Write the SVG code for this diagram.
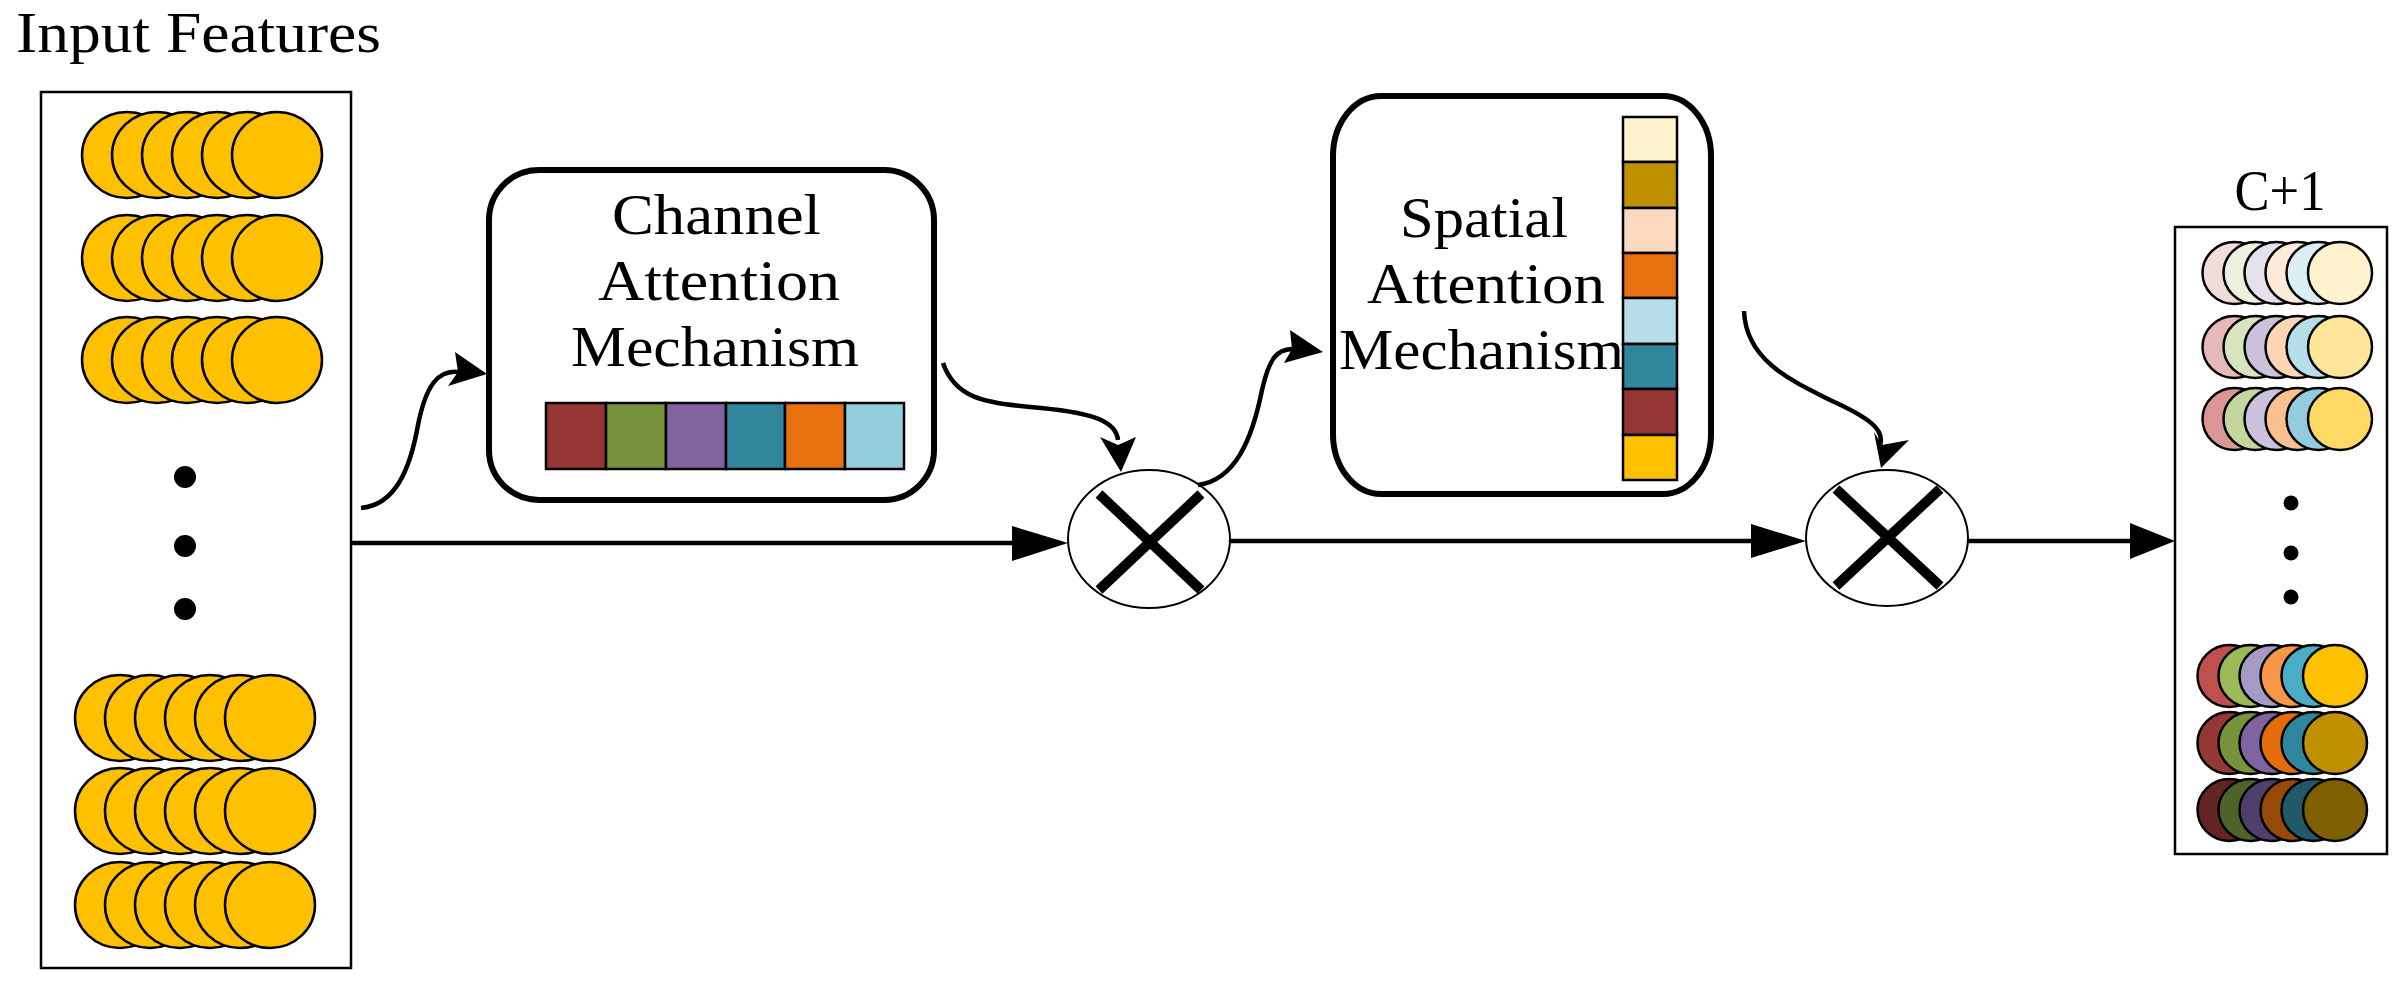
<svg xmlns="http://www.w3.org/2000/svg" width="2407" height="990" viewBox="0 0 2407 990">
<style>
text{font-family:"Liberation Serif","DejaVu Serif",serif;fill:#000}
.t{font-size:56px}
.in ellipse{fill:#FFC000;stroke:#000;stroke-width:2.5}
.out ellipse{stroke:#000;stroke-width:2.5}
.box{fill:#fff;stroke:#000;stroke-width:2.5}
.rbox{fill:#fff;stroke:#000;stroke-width:6}
.cell{stroke:#000;stroke-width:2.5}
.ln{fill:none;stroke:#000;stroke-width:4.5}
.hd{fill:#000}
.x{stroke:#000;stroke-width:10}
</style>
<rect width="2407" height="990" fill="#fff"/>
<g id="input">
<text x="16" y="52" class="t" textLength="365" lengthAdjust="spacingAndGlyphs">Input Features</text>
<rect class="box" x="41" y="92" width="310" height="876"/>
<g class="in">
<g id="r1"><ellipse cx="127" cy="155" rx="45" ry="43"/><ellipse cx="157" cy="155" rx="45" ry="43"/><ellipse cx="187" cy="155" rx="45" ry="43"/><ellipse cx="217" cy="155" rx="45" ry="43"/><ellipse cx="247" cy="155" rx="45" ry="43"/><ellipse cx="277" cy="155" rx="45" ry="43"/></g>
<use href="#r1" y="103"/><use href="#r1" y="205"/>
<g id="r4"><ellipse cx="120" cy="718" rx="45" ry="43"/><ellipse cx="150" cy="718" rx="45" ry="43"/><ellipse cx="180" cy="718" rx="45" ry="43"/><ellipse cx="210" cy="718" rx="45" ry="43"/><ellipse cx="240" cy="718" rx="45" ry="43"/><ellipse cx="270" cy="718" rx="45" ry="43"/></g>
<use href="#r4" y="93"/><use href="#r4" y="187"/>
</g>
<circle cx="185" cy="477" r="11"/><circle cx="185" cy="546" r="11"/><circle cx="185" cy="609" r="11"/>
</g>
<g id="channel">
<rect class="rbox" x="489" y="170" width="445" height="330" rx="50"/>
<text x="612" y="234" class="t" textLength="209" lengthAdjust="spacingAndGlyphs">Channel</text>
<text x="598" y="300" class="t" textLength="242" lengthAdjust="spacingAndGlyphs">Attention</text>
<text x="571" y="366" class="t" textLength="288" lengthAdjust="spacingAndGlyphs">Mechanism</text>
<rect class="cell" x="546" y="403" width="60" height="66" fill="#943634"/>
<rect class="cell" x="606" y="403" width="60" height="66" fill="#76923C"/>
<rect class="cell" x="666" y="403" width="60" height="66" fill="#8064A2"/>
<rect class="cell" x="726" y="403" width="59" height="66" fill="#31859C"/>
<rect class="cell" x="785" y="403" width="60" height="66" fill="#E8710F"/>
<rect class="cell" x="845" y="403" width="59" height="66" fill="#92CDDC"/>
</g>
<g id="mult1">
<ellipse cx="1149" cy="539" rx="81" ry="69" fill="#fff" stroke="#000" stroke-width="2"/>
<line class="x" x1="1099" y1="494" x2="1201" y2="590"/><line class="x" x1="1099" y1="590" x2="1201" y2="494"/>
</g>
<g id="spatial">
<rect class="rbox" x="1333" y="96" width="378" height="398" rx="48" ry="60"/>
<text x="1400" y="237" class="t" textLength="168" lengthAdjust="spacingAndGlyphs">Spatial</text>
<text x="1367" y="303" class="t" textLength="238" lengthAdjust="spacingAndGlyphs">Attention</text>
<text x="1339" y="369" class="t" textLength="285" lengthAdjust="spacingAndGlyphs">Mechanism</text>
<rect class="cell" x="1623" y="117" width="54" height="45" fill="#FFF2CC"/>
<rect class="cell" x="1623" y="162" width="54" height="46" fill="#BF9000"/>
<rect class="cell" x="1623" y="208" width="54" height="45" fill="#FBD9BF"/>
<rect class="cell" x="1623" y="253" width="54" height="45" fill="#E8710F"/>
<rect class="cell" x="1623" y="298" width="54" height="46" fill="#B7DDE8"/>
<rect class="cell" x="1623" y="344" width="54" height="45" fill="#31859C"/>
<rect class="cell" x="1623" y="389" width="54" height="46" fill="#943634"/>
<rect class="cell" x="1623" y="435" width="54" height="45" fill="#FFC000"/>
</g>
<g id="mult2">
<ellipse cx="1887" cy="538" rx="81" ry="68" fill="#fff" stroke="#000" stroke-width="2"/>
<line class="x" x1="1836" y1="489" x2="1940" y2="586"/><line class="x" x1="1836" y1="586" x2="1940" y2="489"/>
</g>
<g id="output">
<text x="2280" y="210" class="t" text-anchor="middle" textLength="91" lengthAdjust="spacingAndGlyphs">C+1</text>
<rect class="box" x="2175" y="227" width="212" height="627"/>
<g class="out">
<ellipse cx="2234.5" cy="273" rx="32" ry="31" fill="#F2DCDB"/><ellipse cx="2255.5" cy="273" rx="32" ry="31" fill="#EBF1DE"/><ellipse cx="2276.5" cy="273" rx="32" ry="31" fill="#E5E0EC"/><ellipse cx="2297.5" cy="273" rx="32" ry="31" fill="#FDEADA"/><ellipse cx="2318.5" cy="273" rx="32" ry="31" fill="#DBEEF4"/><ellipse cx="2340" cy="273" rx="32" ry="31" fill="#FFF2CC"/>
<ellipse cx="2234.5" cy="347" rx="32" ry="31" fill="#E6B9B8"/><ellipse cx="2255.5" cy="347" rx="32" ry="31" fill="#D7E4BD"/><ellipse cx="2276.5" cy="347" rx="32" ry="31" fill="#CCC1DA"/><ellipse cx="2297.5" cy="347" rx="32" ry="31" fill="#FCD5B5"/><ellipse cx="2318.5" cy="347" rx="32" ry="31" fill="#B7DEE8"/><ellipse cx="2340" cy="347" rx="32" ry="31" fill="#FFE699"/>
<ellipse cx="2234.5" cy="419" rx="32" ry="31" fill="#D99694"/><ellipse cx="2255.5" cy="419" rx="32" ry="31" fill="#C3D69B"/><ellipse cx="2276.5" cy="419" rx="32" ry="31" fill="#CCC1DA"/><ellipse cx="2297.5" cy="419" rx="32" ry="31" fill="#FAC090"/><ellipse cx="2318.5" cy="419" rx="32" ry="31" fill="#93CDDD"/><ellipse cx="2340" cy="419" rx="32" ry="31" fill="#FFD966"/>
<ellipse cx="2229.5" cy="676" rx="32" ry="31" fill="#C0504D"/><ellipse cx="2250.5" cy="676" rx="32" ry="31" fill="#9BBB59"/><ellipse cx="2271.5" cy="676" rx="32" ry="31" fill="#A69BC4"/><ellipse cx="2292.5" cy="676" rx="32" ry="31" fill="#F79646"/><ellipse cx="2313.5" cy="676" rx="32" ry="31" fill="#4BACC6"/><ellipse cx="2335" cy="676" rx="32" ry="31" fill="#FFC000"/>
<ellipse cx="2229.5" cy="743" rx="32" ry="31" fill="#953735"/><ellipse cx="2250.5" cy="743" rx="32" ry="31" fill="#77933C"/><ellipse cx="2271.5" cy="743" rx="32" ry="31" fill="#7F64A2"/><ellipse cx="2292.5" cy="743" rx="32" ry="31" fill="#E46C0A"/><ellipse cx="2313.5" cy="743" rx="32" ry="31" fill="#31859C"/><ellipse cx="2335" cy="743" rx="32" ry="31" fill="#BF9000"/>
<ellipse cx="2229.5" cy="810" rx="32" ry="31" fill="#632523"/><ellipse cx="2250.5" cy="810" rx="32" ry="31" fill="#4F6228"/><ellipse cx="2271.5" cy="810" rx="32" ry="31" fill="#4F3F6B"/><ellipse cx="2292.5" cy="810" rx="32" ry="31" fill="#984807"/><ellipse cx="2313.5" cy="810" rx="32" ry="31" fill="#215968"/><ellipse cx="2335" cy="810" rx="32" ry="31" fill="#7F6000"/>
</g>
<circle cx="2291" cy="503" r="7.5"/><circle cx="2291" cy="553" r="7.5"/><circle cx="2291" cy="597" r="7.5"/>
</g>
<g id="connectors">
<line class="ln" x1="352" y1="543" x2="1015" y2="543"/>
<polygon class="hd" points="1012,526 1068,543 1012,561"/>
<line class="ln" x1="1230" y1="541" x2="1755" y2="541"/>
<polygon class="hd" points="1751,524 1806,541 1751,558"/>
<line class="ln" x1="1968" y1="541" x2="2133" y2="541"/>
<polygon class="hd" points="2130,523 2175,541 2130,559"/>
<path class="ln" d="M361,508 C395,505 410,470 418,425 C426,385 438,370 458,372"/>
<polygon class="hd" points="455,352 487,374 448,386 458,372"/>
<path class="ln" d="M943,363 C955,398 985,403 1030,407 C1090,412 1116,420 1118,440"/>
<polygon class="hd" points="1100,437 1121,472 1136,437 1118,445"/>
<path class="ln" d="M1198,485 C1235,480 1252,440 1262,390 C1270,355 1278,350 1292,349"/>
<polygon class="hd" points="1290,330 1323,352 1284,363 1292,349"/>
<path class="ln" d="M1744,311 C1746,360 1790,380 1830,400 C1870,418 1885,430 1880,445"/>
<polygon class="hd" points="1874,432 1881,468 1909,440 1882,445"/>
</g>
</svg>
